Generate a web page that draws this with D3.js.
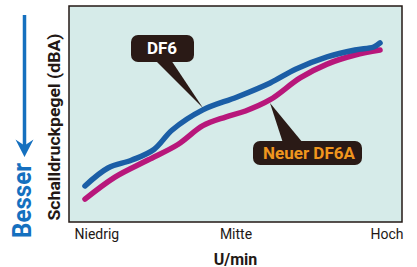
<!DOCTYPE html>
<html><head><meta charset="utf-8">
<script src="https://cdn.jsdelivr.net/npm/d3@7"></script>
<style>body{margin:0;background:#fff}svg{display:block}</style>
</head><body><svg id="c" width="417" height="267"></svg>
<script>
// x: relative speed (0 = Niedrig, 100 = Hoch), y: relative sound pressure
const df6X  = [4.8, 11.7, 18.9, 25.5, 31.0, 40.2, 50.5, 60.4, 68.2, 77.5, 85.9, 91.5, 93.4];
const df6Y  = [16.7, 25.0, 28.7, 33.6, 42.6, 51.9, 57.9, 64.4, 70.8, 76.4, 79.6, 81.0, 82.9];
const df6aX = [4.8, 13.8, 23.7, 32.7, 40.2, 47.0, 53.0, 60.4, 69.4, 77.5, 85.9, 93.4];
const df6aY = [10.6, 20.8, 28.7, 35.9, 44.6, 48.6, 51.4, 56.6, 66.7, 73.1, 77.3, 79.6];
const tickValues = [0, 50, 100];
const tickLabels = ["Niedrig", "Mitte", "Hoch"];
const seriesNames = ["DF6", "Neuer DF6A"];
const xTitle = "U/min";
const yTitle = "Schalldruckpegel (dBA)";
const betterLabel = "Besser";

const svg = d3.select("#c");
const L = 69, R = 402, T = 6, B = 222;
const x = d3.scaleLinear().domain([0, 100]).range([L, R]);
const y = d3.scaleLinear().domain([0, 100]).range([B, T]);
const font = "Roboto, 'Open Sans', sans-serif";

svg.append("rect").attr("x", L).attr("y", T).attr("width", R - L).attr("height", B - T)
  .attr("fill", "#d6ebe9").attr("stroke", "#231815").attr("stroke-width", 1.5);

const line = d3.line().x(d => x(d[0])).y(d => y(d[1])).curve(d3.curveCatmullRom.alpha(0.5));
const dA = d3.zip(df6aX, df6aY), dB = d3.zip(df6X, df6Y);
svg.append("path").datum(dA).attr("d", line).attr("fill", "none")
  .attr("stroke", "#b8177b").attr("stroke-width", 5.5).attr("stroke-linecap", "round");
svg.append("path").datum(dB).attr("d", line).attr("fill", "none")
  .attr("stroke", "#1b5ea6").attr("stroke-width", 5.5).attr("stroke-linecap", "round");

// axis
const ax = svg.append("g").attr("transform", `translate(0,${B})`)
  .call(d3.axisBottom(x).tickValues(tickValues).tickSize(0).tickFormat((d, i) => tickLabels[i]));
ax.select(".domain").remove();
ax.selectAll("text").attr("y", 17).attr("dy", 0)
  .attr("font-family", font).attr("font-size", 14).attr("fill", "#231815")
  .attr("text-anchor", (d, i) => ["start", "middle", "end"][i])
  .attr("dx", (d, i) => [5, 0, 1][i]);

svg.append("text").attr("x", 235.5).attr("y", 264.5).attr("text-anchor", "middle")
  .attr("font-family", font).attr("font-weight", "bold").attr("font-size", 16)
  .attr("fill", "#231815").text(xTitle);

svg.append("text").attr("transform", "translate(60,127) rotate(-90)").attr("text-anchor", "middle")
  .attr("font-family", font).attr("font-weight", "bold").attr("font-size", 17)
  .attr("textLength", 187).attr("lengthAdjust", "spacingAndGlyphs")
  .attr("fill", "#231815").text(yTitle);

// Besser arrow
svg.append("line").attr("x1", 24.5).attr("x2", 24.5).attr("y1", 15).attr("y2", 146)
  .attr("stroke", "#1570bf").attr("stroke-width", 3.5);
svg.append("path").attr("d", "M15.5,139.5 L24.5,157 L33.5,139.5 L24.5,145.5 Z").attr("fill", "#1570bf");
svg.append("text").attr("transform", "translate(31,200.5) rotate(-90)").attr("text-anchor", "middle")
  .attr("font-family", font).attr("font-weight", "bold").attr("font-size", 26)
  .attr("textLength", 75).attr("lengthAdjust", "spacingAndGlyphs")
  .attr("fill", "#1570bf").text(betterLabel);

// callouts
const dark = "#2a1a16";
svg.append("path").attr("d", "M155,60 L171,60 L203,108 Z").attr("fill", dark);
svg.append("rect").attr("x", 131).attr("y", 35).attr("width", 63).attr("height", 27).attr("rx", 7).attr("fill", dark);
svg.append("text").attr("x", 162).attr("y", 53.5).attr("text-anchor", "middle")
  .attr("font-family", font).attr("font-weight", "bold").attr("font-size", 17)
  .attr("fill", "#ffffff").text(seriesNames[0]);

svg.append("path").attr("d", "M283,143 L303,143 L270,103 Z").attr("fill", dark);
svg.append("rect").attr("x", 253).attr("y", 141).attr("width", 109).attr("height", 24).attr("rx", 7).attr("fill", dark);
svg.append("text").attr("x", 309).attr("y", 159).attr("text-anchor", "middle")
  .attr("font-family", font).attr("font-weight", "bold").attr("font-size", 17)
  .attr("fill", "#f0961e").text(seriesNames[1]);
</script></body></html>
